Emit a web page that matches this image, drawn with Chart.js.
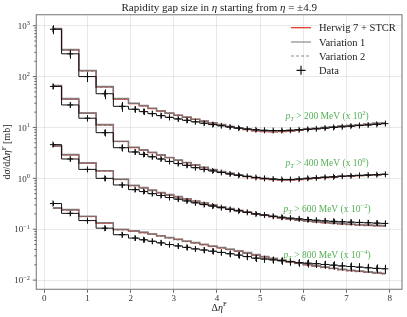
<!DOCTYPE html>
<html>
<head>
<meta charset="utf-8">
<script src="https://cdn.jsdelivr.net/npm/chart.js@4.4.1/dist/chart.umd.min.js"></script>
<style>
  html, body { margin: 0; padding: 0; background: #fff; }
  canvas { display: block; }
</style>
</head>
<body>
<canvas id="gapChart" width="407" height="317"></canvas>
<script>
// bin centres in Delta eta^F
const etaGap = [0.2, 0.6, 1.0, 1.4, 1.8, 2.1, 2.3, 2.5, 2.7, 2.9, 3.1, 3.3, 3.5, 3.7, 3.9, 4.1, 4.3, 4.5,
  4.7, 4.9, 5.1, 5.3, 5.5, 5.7, 5.9, 6.1, 6.3, 6.5, 6.7, 6.9, 7.1, 7.3, 7.5, 7.7, 7.9];

const xTicks = [0, 1, 2, 3, 4, 5, 6, 7, 8];
const yDecades = [-2, -1, 0, 1, 2, 3];

// pT > 200 MeV (already scaled x 10^2)
const herwig200 = [870, 335, 130, 63, 36, 29.5, 26.5, 23.5, 21, 19, 17.3, 15.8, 14.4, 13.2, 12.2, 11.2, 10.4, 9.7,
  9.1, 8.6, 8.3, 8.2, 8.3, 8.5, 8.8, 9.2, 9.5, 9.9, 10.2, 10.6, 10.9, 11.2, 11.5, 11.8, 12.1];
const var1_200 = [880, 340, 132, 64, 37, 30, 27, 24, 21.3, 19.3, 17.5, 16, 14.6, 13.4, 12.3, 11.4, 10.5, 9.8,
  9.3, 8.8, 8.5, 8.4, 8.5, 8.7, 9.0, 9.3, 9.6, 10.0, 10.3, 10.7, 11.0, 11.3, 11.6, 12.2, 12.3];
const var2_200 = [860, 330, 128, 62, 36.5, 29.8, 26.8, 23.8, 21.2, 19.2, 17.4, 15.9, 14.5, 13.3, 12.3, 11.3, 10.5, 9.8,
  9.2, 8.7, 8.4, 8.3, 8.4, 8.6, 8.9, 9.3, 9.7, 10.0, 10.4, 10.6, 11.1, 11.3, 11.6, 11.9, 12.2];
const data200 = [850, 280, 100, 46, 26, 22.8, 20.5, 18.7, 17.1, 15.8, 14.7, 13.8, 12.9, 12.1, 11.4, 10.8, 10.2, 9.7,
  9.3, 9.0, 8.8, 8.7, 8.7, 8.8, 9.0, 9.2, 9.4, 9.7, 10.0, 10.3, 10.6, 10.9, 11.2, 11.5, 11.9];
const err200 = [20, 20, 22, 22, 22, 15, 14, 13, 12, 12, 11, 11, 10, 10, 10, 9, 9, 9,
  9, 8, 8, 8, 8, 8, 8, 8, 8, 8, 8, 8, 8, 8, 8, 8, 8];

// pT > 400 MeV (x 10^0)
const herwig400 = [66, 36, 19, 11.2, 5.3, 4.0, 3.6, 3.2, 2.85, 2.55, 2.27, 2.03, 1.82, 1.63, 1.48, 1.35, 1.24, 1.15,
  1.08, 1.02, 0.97, 0.94, 0.92, 0.92, 0.94, 0.97, 1.0, 1.03, 1.06, 1.09, 1.11, 1.13, 1.15, 1.17, 1.19];
const var1_400 = [67, 37, 19.5, 11.5, 5.4, 4.1, 3.65, 3.25, 2.9, 2.58, 2.3, 2.06, 1.85, 1.66, 1.5, 1.37, 1.26, 1.17,
  1.1, 1.04, 0.99, 0.96, 0.94, 0.94, 0.96, 0.99, 1.02, 1.05, 1.08, 1.1, 1.12, 1.14, 1.16, 1.18, 1.2];
const var2_400 = [65, 35.5, 18.8, 11.0, 5.25, 4.05, 3.62, 3.22, 2.87, 2.56, 2.28, 2.04, 1.83, 1.64, 1.49, 1.36, 1.25, 1.16,
  1.09, 1.03, 0.98, 0.95, 0.93, 0.93, 0.95, 0.98, 1.01, 1.04, 1.07, 1.1, 1.12, 1.14, 1.16, 1.18, 1.2];
const data400 = [64, 27.7, 15.2, 7.9, 4.0, 3.3, 2.95, 2.65, 2.4, 2.15, 1.95, 1.8, 1.62, 1.5, 1.4, 1.3, 1.22, 1.15,
  1.09, 1.04, 1.0, 0.97, 0.95, 0.95, 0.97, 1.0, 1.02, 1.05, 1.07, 1.1, 1.12, 1.14, 1.16, 1.18, 1.2];
const err400 = [12, 12, 14, 16, 16, 12, 11, 11, 10, 10, 10, 10, 9, 9, 9, 9, 9, 9,
  8, 8, 8, 8, 8, 8, 8, 8, 8, 8, 8, 8, 8, 8, 8, 8, 8];

// pT > 600 MeV (x 10^-2)
const herwig600 = [4.3, 2.9, 2.0, 1.4, 0.95, 0.72, 0.65, 0.58, 0.52, 0.47, 0.43, 0.39, 0.355, 0.325, 0.297, 0.273, 0.252, 0.233,
  0.216, 0.2, 0.187, 0.176, 0.166, 0.158, 0.151, 0.145, 0.14, 0.135, 0.131, 0.127, 0.124, 0.121, 0.119, 0.117, 0.116];
const var1_600 = [4.4, 2.95, 2.03, 1.42, 0.97, 0.73, 0.66, 0.59, 0.53, 0.48, 0.44, 0.4, 0.36, 0.33, 0.3, 0.276, 0.255, 0.236,
  0.219, 0.203, 0.19, 0.179, 0.169, 0.161, 0.154, 0.148, 0.143, 0.138, 0.134, 0.13, 0.127, 0.124, 0.122, 0.12, 0.119];
const var2_600 = [4.25, 2.88, 1.98, 1.39, 0.94, 0.715, 0.645, 0.575, 0.515, 0.467, 0.427, 0.388, 0.353, 0.323, 0.295, 0.271, 0.25, 0.231,
  0.214, 0.198, 0.185, 0.174, 0.164, 0.156, 0.149, 0.143, 0.138, 0.133, 0.129, 0.125, 0.122, 0.119, 0.117, 0.115, 0.114];
const data600 = [4.6, 2.4, 1.5, 1.0, 0.74, 0.6, 0.55, 0.5, 0.46, 0.42, 0.39, 0.36, 0.33, 0.305, 0.285, 0.265, 0.245, 0.23,
  0.215, 0.2, 0.19, 0.18, 0.172, 0.165, 0.16, 0.155, 0.15, 0.146, 0.143, 0.14, 0.138, 0.136, 0.134, 0.132, 0.13];
const err600 = [10, 10, 12, 12, 12, 10, 10, 10, 10, 10, 10, 10, 10, 10, 10, 10, 10, 10,
  10, 10, 10, 11, 11, 11, 11, 12, 12, 12, 12, 12, 13, 13, 13, 13, 13];

// pT > 800 MeV (x 10^-4)
const herwig800 = [0.26, 0.24, 0.178, 0.132, 0.098, 0.092, 0.086, 0.08, 0.074, 0.068, 0.063, 0.058, 0.054, 0.05, 0.046, 0.043, 0.04, 0.037,
  0.034, 0.031, 0.0285, 0.0265, 0.0245, 0.0228, 0.0213, 0.02, 0.0188, 0.0178, 0.0169, 0.0161, 0.0154, 0.0148, 0.0143, 0.0138, 0.0134];
const var1_800 = [0.265, 0.245, 0.181, 0.135, 0.1, 0.094, 0.088, 0.081, 0.075, 0.069, 0.064, 0.059, 0.055, 0.051, 0.047, 0.044, 0.041, 0.038,
  0.035, 0.032, 0.0292, 0.027, 0.025, 0.0233, 0.0217, 0.0204, 0.0192, 0.0181, 0.0172, 0.0164, 0.0157, 0.0151, 0.0146, 0.0141, 0.0137];
const var2_800 = [0.258, 0.238, 0.176, 0.131, 0.097, 0.091, 0.085, 0.079, 0.073, 0.067, 0.062, 0.057, 0.053, 0.049, 0.0455, 0.0425, 0.0395, 0.0365,
  0.0335, 0.0307, 0.0282, 0.0262, 0.0242, 0.0225, 0.021, 0.0198, 0.0186, 0.0176, 0.0167, 0.0159, 0.0152, 0.0146, 0.0141, 0.0136, 0.0132];
const data800 = [0.32, 0.205, 0.148, 0.105, 0.078, 0.067, 0.062, 0.058, 0.054, 0.05, 0.047, 0.044, 0.041, 0.039, 0.037, 0.035, 0.033, 0.031,
  0.029, 0.027, 0.026, 0.025, 0.024, 0.023, 0.022, 0.0215, 0.021, 0.0203, 0.0197, 0.019, 0.0185, 0.018, 0.0175, 0.017, 0.0167];
const err800 = [10, 10, 12, 12, 12, 12, 12, 12, 12, 12, 13, 13, 13, 14, 14, 14, 15, 15,
  15, 16, 16, 16, 17, 17, 17, 18, 18, 18, 19, 19, 20, 20, 20, 20, 20];

const groupLabels = ['200', '400', '600', '800'];
const groupScales = ['2', '0', '\u22122', '\u22124'];

const SERIF = '"Liberation Serif", "DejaVu Serif", serif';
const RED = '#e8281e';
const GREY = 'rgba(120,120,120,0.85)';
const GREEN = '#55b055';

const groups = [
  { h: herwig200, v1: var1_200, v2: var2_200, d: data200, e: err200 },
  { h: herwig400, v1: var1_400, v2: var2_400, d: data400, e: err400 },
  { h: herwig600, v1: var1_600, v2: var2_600, d: data600, e: err600 },
  { h: herwig800, v1: var1_800, v2: var2_800, d: data800, e: err800 }
];

function pts(vals) {
  return vals.map((v, i) => ({ x: etaGap[i], y: v }));
}

const datasets = [];
groups.forEach((g, gi) => {
  datasets.push({ label: 'Herwig 7 + STCR', data: pts(g.h), borderColor: RED, borderWidth: 1.2,
    stepped: 'middle', pointRadius: 0, order: 50 });
  datasets.push({ label: 'Variation 1', data: pts(g.v1), borderColor: GREY, borderWidth: 1.4,
    stepped: 'middle', pointRadius: 0, order: 40 });
  datasets.push({ label: 'Variation 2', data: pts(g.v2), borderColor: GREY, borderWidth: 1.2,
    borderDash: [3, 2], stepped: 'middle', pointRadius: 0, order: 30 });
  datasets.push({ label: 'Data', data: pts(g.d), borderColor: '#111', borderWidth: 1,
    stepped: 'middle', pointRadius: 3, pointStyle: 'cross', pointBorderColor: '#111',
    pointBorderWidth: 1, order: 10, errs: g.e });
});

function isDecade(v) {
  const l = Math.log10(v);
  return Math.abs(l - Math.round(l)) < 1e-6;
}

// text with sub/superscript pieces: [text, style]
function fontFor(style, size) {
  const small = Math.round(size * 0.7 * 10) / 10;
  if (style === 'i') return 'italic ' + size + 'px ' + SERIF;
  if (style === 'sup' || style === 'sub') return small + 'px ' + SERIF;
  if (style === 'isub' || style === 'isup') return 'italic ' + small + 'px ' + SERIF;
  return size + 'px ' + SERIF;
}
function richWidth(ctx, parts, size) {
  let w = 0;
  parts.forEach(p => { ctx.font = fontFor(p[1], size); w += ctx.measureText(p[0]).width; });
  return w;
}
function drawRich(ctx, parts, x, y, size, align) {
  const w = richWidth(ctx, parts, size);
  let cx = align === 'center' ? x - w / 2 : (align === 'right' ? x - w : x);
  ctx.textAlign = 'left';
  ctx.textBaseline = 'alphabetic';
  parts.forEach(p => {
    ctx.font = fontFor(p[1], size);
    let dy = 0;
    if (p[1] === 'sup' || p[1] === 'isup') dy = -size * 0.42;
    if (p[1] === 'sub' || p[1] === 'isub') dy = size * 0.22;
    ctx.fillText(p[0], cx, y + dy);
    cx += ctx.measureText(p[0]).width;
  });
}

const decorPlugin = {
  id: 'decor',
  afterDatasetsDraw(chart) {
    const ctx = chart.ctx;
    const xs = chart.scales.x, ys = chart.scales.y;
    ctx.save();
    ctx.strokeStyle = '#111';
    ctx.lineWidth = 1;
    chart.data.datasets.forEach(ds => {
      if (!ds.errs) return;
      ds.data.forEach((p, i) => {
        const px = xs.getPixelForValue(p.x);
        const e = ds.errs[i] / 100;
        const y1 = ys.getPixelForValue(p.y * (1 + e));
        const y2 = ys.getPixelForValue(p.y * (1 - e));
        ctx.beginPath();
        ctx.moveTo(Math.round(px) + 0.5, y1);
        ctx.lineTo(Math.round(px) + 0.5, y2);
        ctx.stroke();
      });
    });
    ctx.restore();
  },
  afterDraw(chart) {
    const ctx = chart.ctx;
    const a = chart.chartArea;
    const xs = chart.scales.x, ys = chart.scales.y;
    ctx.save();

    // frame
    ctx.strokeStyle = '#8a8a8a';
    ctx.lineWidth = 1.2;
    ctx.strokeRect(a.left, a.top, a.right - a.left, a.bottom - a.top);

    // y ticks (major + minor) and labels
    ctx.strokeStyle = '#444';
    ctx.lineWidth = 0.8;
    ctx.fillStyle = '#333';
    yDecades.forEach(d => {
      for (let m = 1; m <= 9; m++) {
        const v = m * Math.pow(10, d);
        const py = ys.getPixelForValue(v);
        if (py < a.top || py > a.bottom) continue;
        const len = m === 1 ? 3.5 : 2;
        ctx.beginPath();
        ctx.moveTo(a.left - len, py);
        ctx.lineTo(a.left, py);
        ctx.stroke();
      }
      const py = ys.getPixelForValue(Math.pow(10, d));
      const ex = d < 0 ? '\u2212' + Math.abs(d) : String(d);
      drawRich(ctx, [['10', 'n'], [ex, 'sup']], 30, py + 3.2, 9, 'right');
    });

    // title
    ctx.fillStyle = '#222';
    drawRich(ctx, [['Rapidity gap size in ', 'n'], ['\u03b7', 'i'], [' starting from ', 'n'],
      ['\u03b7', 'i'], [' = \u00b14.9', 'n']], (a.left + a.right) / 2, 10.5, 11, 'center');

    // x title
    drawRich(ctx, [['\u0394', 'n'], ['\u03b7', 'i'], ['F', 'sup']], (a.left + a.right) / 2, 310.5, 10, 'center');

    // y title
    ctx.save();
    ctx.translate(10, (a.top + a.bottom) / 2);
    ctx.rotate(-Math.PI / 2);
    drawRich(ctx, [['d', 'n'], ['\u03c3', 'i'], ['/d\u0394', 'n'], ['\u03b7', 'i'], ['F', 'sup'], [' [mb]', 'n']], 0, 0, 10, 'center');
    ctx.restore();

    // group annotations
    const annY = [16.8, 1.98, 0.247, 0.0313];
    ctx.fillStyle = GREEN;
    groupLabels.forEach((lab, i) => {
      const px = xs.getPixelForValue(6.55);
      const py = ys.getPixelForValue(annY[i]) + 3;
      drawRich(ctx, [['p', 'i'], ['T', 'isub'], [' > ' + lab + ' MeV (x 10', 'n'], [groupScales[i], 'sup'], [')', 'n']],
        px, py, 9.5, 'center');
    });

    // legend
    const lx0 = 291, lx1 = 311, tx = 319;
    const rows = [27.7, 42, 56, 70.3];
    ctx.lineWidth = 1.2;
    ctx.strokeStyle = RED;
    ctx.beginPath(); ctx.moveTo(lx0, rows[0]); ctx.lineTo(lx1, rows[0]); ctx.stroke();
    ctx.strokeStyle = GREY;
    ctx.beginPath(); ctx.moveTo(lx0, rows[1]); ctx.lineTo(lx1, rows[1]); ctx.stroke();
    ctx.setLineDash([3, 2]);
    ctx.beginPath(); ctx.moveTo(lx0, rows[2]); ctx.lineTo(lx1, rows[2]); ctx.stroke();
    ctx.setLineDash([]);
    ctx.strokeStyle = '#111';
    ctx.lineWidth = 1.2;
    const mx = (lx0 + lx1) / 2;
    ctx.beginPath();
    ctx.moveTo(mx - 4.5, rows[3]); ctx.lineTo(mx + 4.5, rows[3]);
    ctx.moveTo(mx, rows[3] - 4.5); ctx.lineTo(mx, rows[3] + 4.5);
    ctx.stroke();
    ctx.fillStyle = '#222';
    ['Herwig 7 + STCR', 'Variation 1', 'Variation 2', 'Data'].forEach((t, i) => {
      drawRich(ctx, [[t, 'n']], tx, rows[i] + 3.5, 10.5, 'left');
    });

    ctx.restore();
  }
};

new Chart(document.getElementById('gapChart').getContext('2d'), {
  type: 'line',
  data: { datasets: datasets },
  options: {
    responsive: false,
    animation: false,
    layout: { padding: { top: 14.7, right: 3.7, left: 0, bottom: 0 } },
    plugins: { legend: { display: false }, tooltip: { enabled: false }, title: { display: false } },
    scales: {
      x: {
        type: 'linear',
        min: -0.185,
        max: 8.285,
        afterBuildTicks: (s) => { s.ticks = xTicks.map(v => ({ value: v })); },
        afterFit: (s) => { s.height = 27.7; },
        ticks: { font: { family: SERIF, size: 9 }, color: '#333', padding: 0, maxRotation: 0 },
        grid: { color: 'rgba(0,0,0,0.11)', lineWidth: 0.8, tickLength: 3.5, tickColor: '#444', drawTicks: true },
        border: { display: false }
      },
      y: {
        type: 'logarithmic',
        min: 0.0066,
        max: 1644,
        afterFit: (s) => { s.width = 36.3; },
        ticks: { display: false },
        grid: {
          color: (c) => (c.tick && isDecade(c.tick.value)) ? 'rgba(0,0,0,0.11)' : 'rgba(0,0,0,0)',
          lineWidth: 0.8,
          drawTicks: false
        },
        border: { display: false }
      }
    }
  },
  plugins: [decorPlugin]
});
</script>
</body>
</html>
